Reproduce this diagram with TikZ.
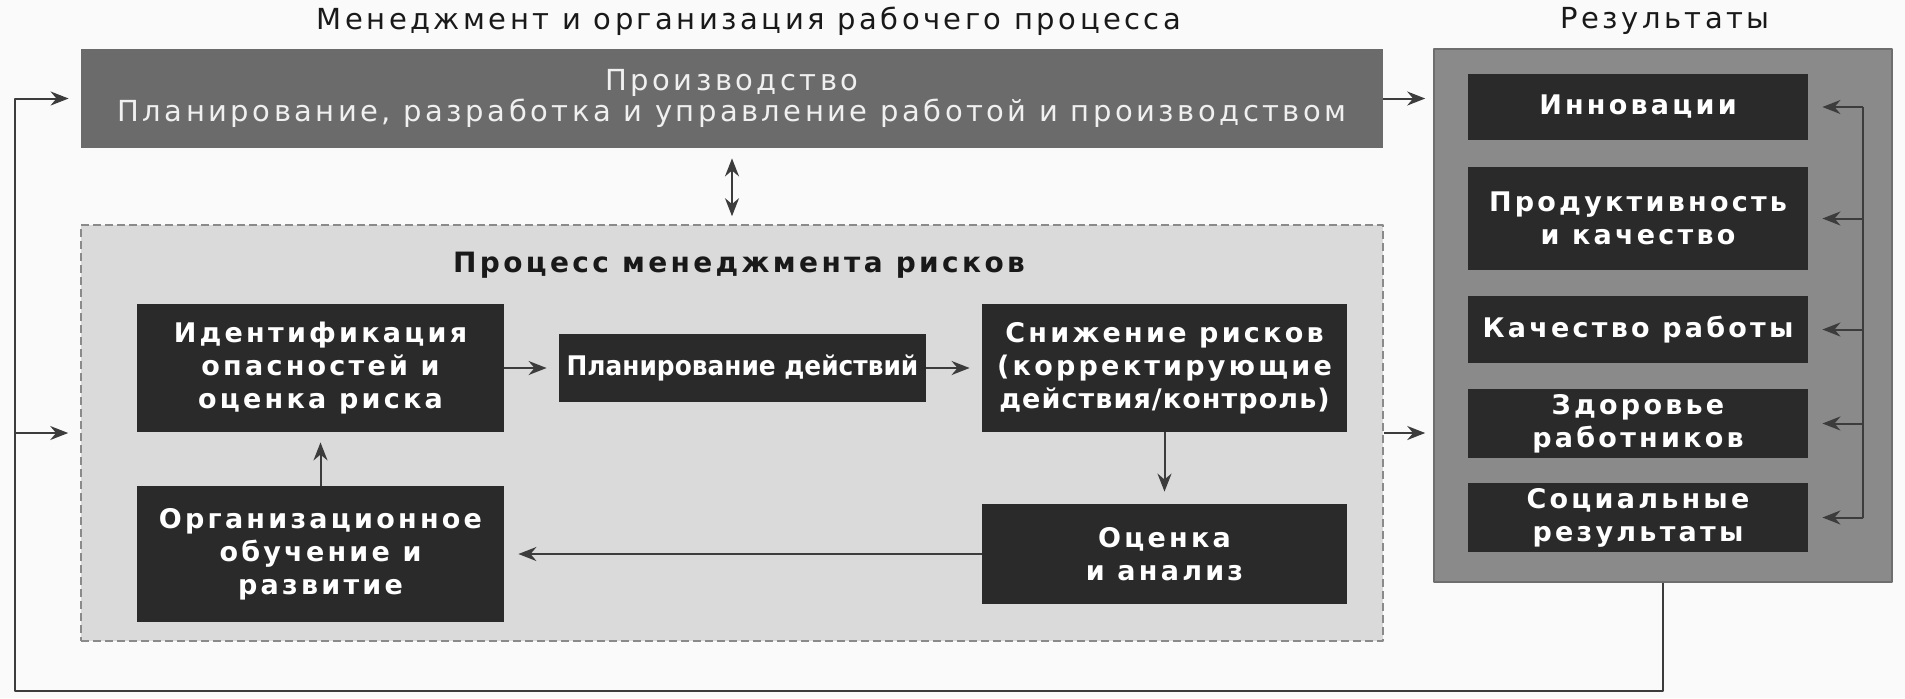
\documentclass[tikz,border=0pt]{standalone}
\usepackage{fontspec}
\setmainfont{DejaVu Sans}[LetterSpace=12]
\newfontfamily\plainfont{DejaVu Sans}[FakeStretch=0.92]
\usetikzlibrary{arrows.meta}
\definecolor{bgwhite}{HTML}{FAFAFA}
\definecolor{prodgray}{HTML}{6B6B6B}
\definecolor{prodtext}{HTML}{F0F0F0}
\definecolor{riskgray}{HTML}{DADADA}
\definecolor{dashgray}{HTML}{8A8A8A}
\definecolor{boxdark}{HTML}{2A2A2A}
\definecolor{resgray}{HTML}{8A8A8A}
\definecolor{resborder}{HTML}{6E6E6E}
\definecolor{linegray}{HTML}{3C3C3C}
\begin{document}
\begin{tikzpicture}[x=0.5pt, y=-0.5pt, >={Stealth[length=9pt,width=7pt]}, line join=round,
	wire/.style={draw=linegray, line width=1pt},
	darkbox/.style={fill=boxdark, text=white, align=center, inner sep=0pt, font=\bfseries\fontsize{13.5}{16.5}\selectfont},
	headtext/.style={text=black!90, font=\fontsize{14.5}{17}\selectfont}]
	\useasboundingbox[fill=bgwhite] (0,0) rectangle (1905,698);
	% management and production
	\node[headtext] (ttl) at (749,21) {Менеджмент и организация рабочего процесса};
	\node[fill=prodgray, text=prodtext, minimum width=651pt, minimum height=49.5pt, align=center, font=\fontsize{14.5}{15.5}\selectfont] (prod) at (732,98.5) {Производство\\Планирование, разработка и управление работой и производством};
	\node[draw=dashgray, fill=riskgray, line width=0.8pt, dash pattern=on 4pt off 2pt, minimum width=651pt, minimum height=208pt] (risk) at (732,433) {};
	\node[headtext, font=\bfseries\fontsize{14}{16}\selectfont] (risktl) at (739,265) {Процесс менеджмента рисков};
	% risk process
	\node[darkbox, minimum width=183.5pt, minimum height=64pt] (ident) at (320.5,368) {Идентификация\\опасностей и\\оценка риска};
	\node[darkbox, minimum width=183.5pt, minimum height=34pt, font=\plainfont\bfseries\fontsize{13.5}{16}\selectfont] (plan) at (742.5,368) {Планирование действий};
	\node[darkbox, minimum width=182.5pt, minimum height=64pt] (reduce) at (1164.5,368) {Снижение рисков\\(корректирующие\\{\addfontfeatures{LetterSpace=4}действия/контроль)}};
	\node[darkbox, minimum width=183.5pt, minimum height=68pt] (learn) at (320.5,554) {Организационное\\обучение и\\развитие};
	\node[darkbox, minimum width=182.5pt, minimum height=50pt] (eval) at (1164.5,554) {Оценка\\и анализ};
	% results
	\node[headtext] (restl) at (1665,21) {Результаты};
	\node[fill=resgray, draw=resborder, line width=0.8pt, minimum width=229pt, minimum height=266.5pt] (res) at (1663,315.5) {};
	\node[darkbox, minimum width=170pt, minimum height=33pt] (inn) at (1638,107) {Инновации};
	\node[darkbox, minimum width=170pt, minimum height=51.5pt] (prodq) at (1638,218.5) {Продуктивность\\и качество};
	\node[darkbox, minimum width=170pt, minimum height=33.5pt] (kach) at (1638,329.5) {Качество работы};
	\node[darkbox, minimum width=170pt, minimum height=34.5pt] (zdor) at (1638,423.5) {Здоровье\\работников};
	\node[darkbox, minimum width=170pt, minimum height=34.5pt] (soc) at (1638,517.5) {Социальные\\результаты};
	% connectors
	\draw[wire, ->, shorten >=4pt] (prod.east) -- (prod.east -| res.west);
	\draw[wire, ->, shorten >=4pt] (risk.east) -- (risk.east -| res.west);
	\draw[wire, <->, shorten <=5pt, shorten >=4pt] (prod.south) -- (risk.north);
	\draw[wire, ->, shorten >=6pt] (ident) -- (plan);
	\draw[wire, ->, shorten >=6pt] (plan) -- (reduce);
	\draw[wire, ->, shorten >=6pt] (reduce) -- (eval);
	\draw[wire, ->, shorten >=7pt] (eval) -- (learn);
	\draw[wire, ->, shorten >=5pt] (learn) -- (ident);
	\coordinate (rline) at (1863,0);
	\draw[wire] (inn.east -| rline) -- (soc.east -| rline);
	\foreach \b in {inn,prodq,kach,zdor,soc}
		\draw[wire, ->, shorten >=7pt] (\b.east -| rline) -- (\b.east);
	% feedback loop
	\coordinate (lp) at (15,691);
	\draw[wire, ->, shorten >=6pt] (res.south) |- (lp) |- (prod.west);
	\draw[wire, ->, shorten >=6pt] (lp |- risk.west) -- (risk.west);
\end{tikzpicture}
\end{document}
